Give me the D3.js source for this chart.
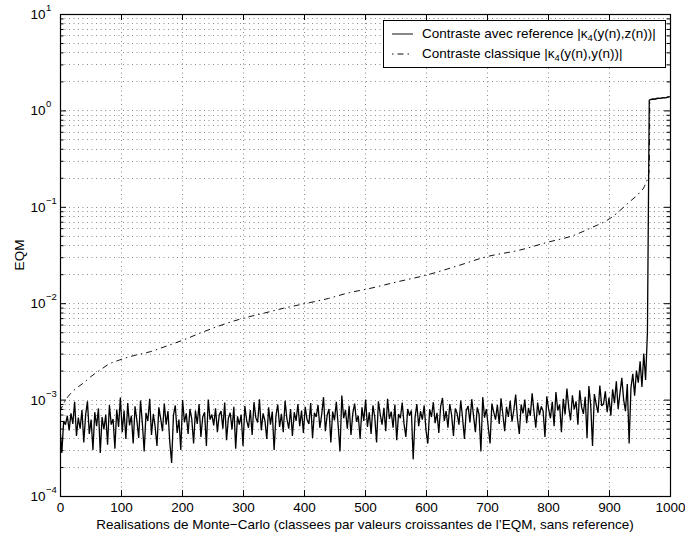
<!DOCTYPE html>
<html>
<head>
<meta charset="utf-8">
<script src="https://cdn.jsdelivr.net/npm/d3@7"></script>
<style>
  body { margin: 0; background: #fff; }
  text { font-family: "Liberation Sans", Arial, Helvetica, sans-serif; fill: #000; }
</style>
</head>
<body>
<svg id="chart" width="685" height="536"></svg>
<script>
// ---- data ----
var xTicks = [0, 100, 200, 300, 400, 500, 600, 700, 800, 900, 1000];
var yDecades = [-4, -3, -2, -1, 0, 1];

// contraste avec reference : one value every 3 realisations, in units of 1e-4
var refStep = 3;
var refEQMx1e4 = [
  5.0,2.8,6.0,5.5,6.8,4.8,7.2,5.6,9.5,4.2,6.5,5.0,7.8,3.6,6.9,9.6,4.4,6.2,3.0,7.4,5.3,8.1,2.8,6.6,4.9,7.0,3.4,8.8,5.5,6.3,3.1,7.9,5.2,
  10.5,4.6,7.7,3.9,9.2,5.4,6.8,3.5,8.5,6.1,4.0,9.8,5.7,2.9,7.3,6.0,10.2,4.3,7.1,5.2,3.3,8.3,6.4,4.7,9.1,5.5,7.6,3.6,2.2,6.9,8.7,4.5,6.2,
  3.0,9.9,5.8,7.2,4.4,8.0,6.3,3.5,7.7,5.6,9.0,4.1,6.6,7.4,3.3,10.0,6.2,7.0,5.4,8.1,4.6,6.9,7.6,5.0,9.3,3.8,6.4,7.3,4.9,8.4,3.1,6.7,5.5,
  7.0,3.3,8.6,6.1,5.1,7.8,4.3,9.4,6.5,5.8,10.1,4.8,7.2,6.0,3.9,8.3,5.5,7.5,3.0,6.8,8.9,5.2,7.1,4.6,9.7,6.3,5.0,8.0,4.2,7.4,6.0,9.0,5.3,
  7.7,4.5,8.4,6.2,5.6,9.2,4.0,7.3,6.6,8.8,5.1,7.0,10.6,4.7,6.9,8.0,3.6,7.5,6.1,9.5,5.4,2.9,11.0,6.4,7.8,5.0,8.6,4.3,7.2,9.1,5.9,6.8,3.9,
  8.3,6.0,10.0,5.2,7.4,4.4,8.7,6.6,3.6,9.6,7.0,5.5,8.2,4.7,10.2,6.3,7.5,5.1,8.9,3.8,7.1,6.4,9.3,5.6,4.1,8.0,6.8,7.7,2.4,6.5,9.0,5.3,7.6,
  6.2,8.7,4.8,3.5,7.9,6.6,9.4,5.7,7.3,4.5,8.5,10.4,6.0,7.6,5.1,9.0,6.9,4.2,8.1,7.2,5.5,9.8,6.4,3.9,7.7,8.6,5.8,10.1,6.7,4.6,8.3,7.0,2.9,
  10.6,6.5,8.0,5.2,3.5,9.1,7.4,6.2,8.8,5.6,10.3,7.0,4.7,8.4,6.6,9.7,5.9,7.8,11.3,6.3,4.4,8.9,7.2,10.0,5.7,8.2,6.8,11.6,7.5,5.1,9.3,6.9,8.5,
  7.6,4.1,10.8,8.0,6.4,9.5,5.3,12.0,7.7,8.9,4.6,10.2,7.0,13.0,8.3,6.1,11.1,7.9,9.6,5.5,12.5,8.4,7.1,10.7,4.0,13.8,8.8,3.3,11.4,9.0,7.3,14.0,8.6,
  9.0,12.2,7.4,10.5,6.8,12.8,9.2,15.5,8.0,11.7,16.8,10.0,7.6,14.5,3.5,13.2,18.5,11.0,20.0,15.0,25.0,13.5,30.0,16.0,50.0,
  12800,13000,13200,13100,13300,13400,13300,13500,13600,13500,13700,13800
];

// contraste classique : sorted curve, knots
var classicN = [0, 4, 8, 13, 20, 30, 38, 50, 66, 80, 98, 120, 148, 175, 202, 230, 257, 300, 335, 366, 404, 440, 475, 503, 550, 601, 650, 699, 754, 800, 840, 869, 902, 934, 950, 959, 966, 967, 980, 1000];
var classicEQM = [7.5e-4, 8.6e-4, 9.6e-4, 1.07e-3, 1.2e-3, 1.36e-3, 1.48e-3, 1.72e-3, 2.03e-3, 2.33e-3, 2.58e-3, 2.85e-3, 3.14e-3, 3.6e-3, 4.15e-3, 4.9e-3, 5.7e-3, 6.97e-3, 7.9e-3, 8.85e-3, 9.97e-3, 1.12e-2, 1.29e-2, 1.4e-2, 1.65e-2, 1.96e-2, 2.42e-2, 3.03e-2, 3.56e-2, 4.3e-2, 5.0e-2, 5.98e-2, 7.6e-2, 0.113, 0.14, 0.168, 0.24, 1.28, 1.32, 1.39];

var xLabel = "Realisations de Monte\u2212Carlo (classees par valeurs croissantes de l\u2019EQM, sans reference)";
var yLabel = "EQM";

// ---- layout ----
var mLeft = 60, mRight = 670, mTop = 14, mBottom = 496;
var fs = 13.5;
var svg = d3.select("#chart");

var x = d3.scaleLinear().domain([0, 1000]).range([mLeft, mRight]);
var y = d3.scaleLog().domain([1e-4, 10]).range([mBottom, mTop]);

// minor log values (2..9 in each decade) + majors
var minors = [];
yDecades.slice(0, -1).forEach(function (e) {
  for (var k = 2; k <= 9; k++) minors.push(k * Math.pow(10, e));
});
var majors = yDecades.map(function (e) { return Math.pow(10, e); });

svg.append("defs").append("clipPath").attr("id", "plotclip")
  .append("rect").attr("x", mLeft).attr("y", mTop)
  .attr("width", mRight - mLeft).attr("height", mBottom - mTop);

// grid
var grid = svg.append("g").attr("stroke", "#000").attr("stroke-width", 0.7)
  .attr("stroke-dasharray", "1,3.5").attr("fill", "none").attr("opacity", 0.65);
grid.selectAll(".hg").data(minors.concat(majors.slice(1, -1))).enter().append("line")
  .attr("x1", mLeft).attr("x2", mRight)
  .attr("y1", function (d) { return Math.round(y(d)) + 0.5; })
  .attr("y2", function (d) { return Math.round(y(d)) + 0.5; });
grid.selectAll(".vg").data(xTicks.slice(1, -1)).enter().append("line")
  .attr("y1", mTop).attr("y2", mBottom)
  .attr("x1", function (d) { return Math.round(x(d)) + 0.5; })
  .attr("x2", function (d) { return Math.round(x(d)) + 0.5; });

// series
var plot = svg.append("g").attr("clip-path", "url(#plotclip)");

var refData = refEQMx1e4.map(function (v, i) { return [i * refStep, v * 1e-4]; });
var classicData = classicN.map(function (n, i) { return [n, classicEQM[i]]; });

var line = d3.line()
  .x(function (d) { return x(d[0]); })
  .y(function (d) { return y(d[1]); });

plot.append("path").datum(classicData)
  .attr("d", line.curve(d3.curveMonotoneX))
  .attr("fill", "none").attr("stroke", "#111").attr("stroke-width", 1)
  .attr("stroke-dasharray", "6,4,1.5,4");

plot.append("path").datum(refData)
  .attr("d", line.curve(d3.curveLinear))
  .attr("fill", "none").attr("stroke", "#000").attr("stroke-width", 1.3)
  .attr("stroke-linejoin", "bevel");

// axes box
svg.append("rect").attr("x", mLeft + 0.5).attr("y", mTop + 0.5)
  .attr("width", mRight - mLeft).attr("height", mBottom - mTop)
  .attr("fill", "none").attr("stroke", "#000").attr("stroke-width", 1.2);

// x ticks (inward) bottom and top
var xb = svg.append("g").attr("transform", "translate(0," + mBottom + ")")
  .call(d3.axisBottom(x).tickValues(xTicks).tickSizeInner(-6).tickSizeOuter(0).tickPadding(6).tickFormat(d3.format("d")));
var xt = svg.append("g").attr("transform", "translate(0," + mTop + ")")
  .call(d3.axisTop(x).tickValues(xTicks).tickSizeInner(-6).tickSizeOuter(0).tickFormat(""));
[xb, xt].forEach(function (g) {
  g.select(".domain").remove();
  g.selectAll("line").attr("stroke", "#000");
  g.selectAll("text").attr("font-size", fs).attr("font-family", null);
});

// y ticks (inward) left and right
function yTicks(axisFn, xpos) {
  var gMaj = svg.append("g").attr("transform", "translate(" + xpos + ",0)")
    .call(axisFn(y).tickValues(majors).tickSizeInner(-6).tickSizeOuter(0).tickFormat(""));
  var gMin = svg.append("g").attr("transform", "translate(" + xpos + ",0)")
    .call(axisFn(y).tickValues(minors).tickSizeInner(-3.5).tickSizeOuter(0).tickFormat(""));
  [gMaj, gMin].forEach(function (g) {
    g.select(".domain").remove();
    g.selectAll("line").attr("stroke", "#000");
  });
}
yTicks(d3.axisLeft, mLeft);
yTicks(d3.axisRight, mRight);

// y tick labels 10^e
var ylab = svg.append("g");
yDecades.forEach(function (e) {
  var yy = y(Math.pow(10, e));
  ylab.append("text").attr("x", mLeft - 14.5).attr("y", yy + 5)
    .attr("text-anchor", "end").attr("font-size", fs).text("10");
  ylab.append("text").attr("x", mLeft - 14).attr("y", yy - 3)
    .attr("font-size", 9.5).text(e < 0 ? "\u2212" + (-e) : String(e));
});

// axis labels
svg.append("text").attr("x", (mLeft + mRight) / 2).attr("y", 529)
  .attr("text-anchor", "middle").attr("font-size", fs).text(xLabel);
svg.append("text").attr("transform", "translate(24," + ((mTop + mBottom) / 2) + ") rotate(-90)")
  .attr("text-anchor", "middle").attr("font-size", fs).text(yLabel);

// legend
var lg = svg.append("g");
lg.append("rect").attr("x", 383.5).attr("y", 20.5).attr("width", 282).attr("height", 47)
  .attr("fill", "#fff").attr("stroke", "#000").attr("stroke-width", 1);
var legendRows = [
  { y: 34, dash: null, a: "Contraste avec reference |\u03BA", b: "(y(n),z(n))|" },
  { y: 54, dash: "6,4,1.5,4", a: "Contraste classique |\u03BA", b: "(y(n),y(n))|" }
];
legendRows.forEach(function (r) {
  lg.append("line").attr("x1", 392).attr("x2", 413).attr("y1", r.y).attr("y2", r.y)
    .attr("stroke", "#111").attr("stroke-width", 1)
    .attr("stroke-dasharray", r.dash ? "1.5,4,6,4" : null);
  var t = lg.append("text").attr("x", 422).attr("y", r.y + 4).attr("font-size", fs);
  t.append("tspan").text(r.a);
  t.append("tspan").attr("font-size", 9.5).attr("dy", 3).text("4");
  t.append("tspan").attr("dy", -3).text(r.b);
});
</script>
</body>
</html>
